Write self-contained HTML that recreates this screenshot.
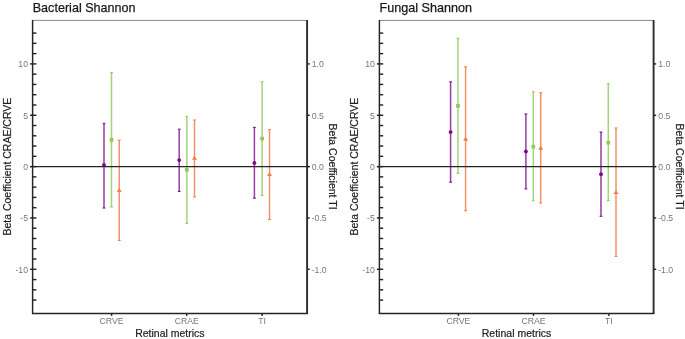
<!DOCTYPE html>
<html><head><meta charset="utf-8"><style>
html,body{margin:0;padding:0;background:#fff;}
body{width:685px;height:339px;overflow:hidden;}
svg{display:block;will-change:transform;}
text{font-family:"Liberation Sans",sans-serif;}
.ttl{font-size:12.6px;fill:#1a1a1a;stroke:#1a1a1a;stroke-width:0.25px;}
.tk{font-size:8.7px;fill:#767676;}
.xt{font-size:10.5px;fill:#1e1e1e;stroke:#1e1e1e;stroke-width:0.2px;}
.yt{font-size:10.5px;fill:#1e1e1e;stroke:#1e1e1e;stroke-width:0.2px;}
.ax{stroke:#242424;stroke-width:1.45;}
</style></head><body>
<svg width="685" height="339" viewBox="0 0 685 339">
<rect width="685" height="339" fill="#fff"/>
<text x="32.7" y="11.9" class="ttl">Bacterial Shannon</text>
<line x1="32.6" y1="20.4" x2="307.1" y2="20.4" stroke="#8a8a8a" stroke-width="1"/>
<line x1="32.6" y1="300.11" x2="36.4" y2="300.11" class="ax"/>
<line x1="32.6" y1="289.84" x2="36.4" y2="289.84" class="ax"/>
<line x1="32.6" y1="279.57" x2="36.4" y2="279.57" class="ax"/>
<line x1="30.1" y1="269.3" x2="36.4" y2="269.3" class="ax"/>
<line x1="32.6" y1="259.03" x2="36.4" y2="259.03" class="ax"/>
<line x1="32.6" y1="248.76" x2="36.4" y2="248.76" class="ax"/>
<line x1="32.6" y1="238.49" x2="36.4" y2="238.49" class="ax"/>
<line x1="32.6" y1="228.22" x2="36.4" y2="228.22" class="ax"/>
<line x1="30.1" y1="217.95" x2="36.4" y2="217.95" class="ax"/>
<line x1="32.6" y1="207.68" x2="36.4" y2="207.68" class="ax"/>
<line x1="32.6" y1="197.41" x2="36.4" y2="197.41" class="ax"/>
<line x1="32.6" y1="187.14" x2="36.4" y2="187.14" class="ax"/>
<line x1="32.6" y1="176.87" x2="36.4" y2="176.87" class="ax"/>
<line x1="30.1" y1="166.6" x2="36.4" y2="166.6" class="ax"/>
<line x1="32.6" y1="156.33" x2="36.4" y2="156.33" class="ax"/>
<line x1="32.6" y1="146.06" x2="36.4" y2="146.06" class="ax"/>
<line x1="32.6" y1="135.79" x2="36.4" y2="135.79" class="ax"/>
<line x1="32.6" y1="125.52" x2="36.4" y2="125.52" class="ax"/>
<line x1="30.1" y1="115.25" x2="36.4" y2="115.25" class="ax"/>
<line x1="32.6" y1="104.98" x2="36.4" y2="104.98" class="ax"/>
<line x1="32.6" y1="94.71" x2="36.4" y2="94.71" class="ax"/>
<line x1="32.6" y1="84.44" x2="36.4" y2="84.44" class="ax"/>
<line x1="32.6" y1="74.17" x2="36.4" y2="74.17" class="ax"/>
<line x1="30.1" y1="63.9" x2="36.4" y2="63.9" class="ax"/>
<line x1="32.6" y1="53.63" x2="36.4" y2="53.63" class="ax"/>
<line x1="32.6" y1="43.36" x2="36.4" y2="43.36" class="ax"/>
<line x1="32.6" y1="33.09" x2="36.4" y2="33.09" class="ax"/>
<text x="28" y="67.4" class="tk" text-anchor="end">10</text>
<text x="28" y="118.75" class="tk" text-anchor="end">5</text>
<text x="28" y="170.1" class="tk" text-anchor="end">0</text>
<text x="28" y="221.45" class="tk" text-anchor="end">-5</text>
<text x="28" y="272.8" class="tk" text-anchor="end">-10</text>
<line x1="307.1" y1="63.9" x2="309.7" y2="63.9" class="ax"/>
<text x="311.7" y="67.4" class="tk">1.0</text>
<line x1="307.1" y1="115.25" x2="309.7" y2="115.25" class="ax"/>
<text x="311.7" y="118.75" class="tk">0.5</text>
<line x1="307.1" y1="166.6" x2="309.7" y2="166.6" class="ax"/>
<text x="311.7" y="170.1" class="tk">0.0</text>
<line x1="307.1" y1="217.95" x2="309.7" y2="217.95" class="ax"/>
<text x="311.7" y="221.45" class="tk">-0.5</text>
<line x1="307.1" y1="269.3" x2="309.7" y2="269.3" class="ax"/>
<text x="311.7" y="272.8" class="tk">-1.0</text>
<line x1="32.6" y1="19.9" x2="32.6" y2="314" class="ax"/>
<line x1="307.1" y1="19.9" x2="307.1" y2="314" class="ax" style="stroke-width:1.9;stroke:#2b2b2b"/>
<line x1="32" y1="313.4" x2="307.7" y2="313.4" class="ax"/>
<line x1="111.6" y1="313.4" x2="111.6" y2="315.9" class="ax"/>
<text x="111.6" y="324.2" class="tk" text-anchor="middle">CRVE</text>
<line x1="186.7" y1="313.4" x2="186.7" y2="315.9" class="ax"/>
<text x="186.7" y="324.2" class="tk" text-anchor="middle">CRAE</text>
<line x1="262.1" y1="313.4" x2="262.1" y2="315.9" class="ax"/>
<text x="262.1" y="324.2" class="tk" text-anchor="middle">TI</text>
<text x="169.85" y="337.2" class="xt" text-anchor="middle">Retinal metrics</text>
<text transform="translate(11,166.6) rotate(-90)" class="yt" text-anchor="middle">Beta Coefficient CRAE/CRVE</text>
<text transform="translate(329.3,166.6) rotate(90)" class="yt" text-anchor="middle">Beta Coefficient TI</text>
<line x1="104" y1="123.5" x2="104" y2="208" stroke="#973da3" stroke-width="1.5"/>
<line x1="102.6" y1="123.5" x2="105.4" y2="123.5" stroke="#7f0a86" stroke-width="1.2" opacity="0.9"/>
<line x1="102.6" y1="208" x2="105.4" y2="208" stroke="#7f0a86" stroke-width="1.2" opacity="0.9"/>
<circle cx="104" cy="165" r="1.95" fill="#7f0a86"/>
<line x1="111.5" y1="72.7" x2="111.5" y2="207" stroke="#a6d27c" stroke-width="1.5"/>
<line x1="110.1" y1="72.7" x2="112.9" y2="72.7" stroke="#90cb52" stroke-width="1.2" opacity="0.9"/>
<line x1="110.1" y1="207" x2="112.9" y2="207" stroke="#90cb52" stroke-width="1.2" opacity="0.9"/>
<rect x="109.65" y="137.95" width="3.7" height="3.7" fill="#90cb52"/>
<line x1="119.25" y1="140.3" x2="119.25" y2="240.4" stroke="#f2936a" stroke-width="1.5"/>
<line x1="117.85" y1="140.3" x2="120.65" y2="140.3" stroke="#f57a45" stroke-width="1.2" opacity="0.9"/>
<line x1="117.85" y1="240.4" x2="120.65" y2="240.4" stroke="#f57a45" stroke-width="1.2" opacity="0.9"/>
<polygon points="119.25,188 121.75,191.9 116.75,191.9" fill="#f57a45"/>
<line x1="179.2" y1="129.2" x2="179.2" y2="191.4" stroke="#973da3" stroke-width="1.5"/>
<line x1="177.8" y1="129.2" x2="180.6" y2="129.2" stroke="#7f0a86" stroke-width="1.2" opacity="0.9"/>
<line x1="177.8" y1="191.4" x2="180.6" y2="191.4" stroke="#7f0a86" stroke-width="1.2" opacity="0.9"/>
<circle cx="179.2" cy="160.1" r="1.95" fill="#7f0a86"/>
<line x1="186.8" y1="116.4" x2="186.8" y2="223.5" stroke="#a6d27c" stroke-width="1.5"/>
<line x1="185.4" y1="116.4" x2="188.2" y2="116.4" stroke="#90cb52" stroke-width="1.2" opacity="0.9"/>
<line x1="185.4" y1="223.5" x2="188.2" y2="223.5" stroke="#90cb52" stroke-width="1.2" opacity="0.9"/>
<rect x="184.95" y="167.95" width="3.7" height="3.7" fill="#90cb52"/>
<line x1="194.5" y1="120" x2="194.5" y2="197" stroke="#f2936a" stroke-width="1.5"/>
<line x1="193.1" y1="120" x2="195.9" y2="120" stroke="#f57a45" stroke-width="1.2" opacity="0.9"/>
<line x1="193.1" y1="197" x2="195.9" y2="197" stroke="#f57a45" stroke-width="1.2" opacity="0.9"/>
<polygon points="194.5,155.8 197,159.7 192,159.7" fill="#f57a45"/>
<line x1="254.4" y1="127.4" x2="254.4" y2="198.2" stroke="#973da3" stroke-width="1.5"/>
<line x1="253" y1="127.4" x2="255.8" y2="127.4" stroke="#7f0a86" stroke-width="1.2" opacity="0.9"/>
<line x1="253" y1="198.2" x2="255.8" y2="198.2" stroke="#7f0a86" stroke-width="1.2" opacity="0.9"/>
<circle cx="254.4" cy="163" r="1.95" fill="#7f0a86"/>
<line x1="262.1" y1="81.8" x2="262.1" y2="195.4" stroke="#a6d27c" stroke-width="1.5"/>
<line x1="260.7" y1="81.8" x2="263.5" y2="81.8" stroke="#90cb52" stroke-width="1.2" opacity="0.9"/>
<line x1="260.7" y1="195.4" x2="263.5" y2="195.4" stroke="#90cb52" stroke-width="1.2" opacity="0.9"/>
<rect x="260.25" y="136.75" width="3.7" height="3.7" fill="#90cb52"/>
<line x1="269.5" y1="129.5" x2="269.5" y2="219.5" stroke="#f2936a" stroke-width="1.5"/>
<line x1="268.1" y1="129.5" x2="270.9" y2="129.5" stroke="#f57a45" stroke-width="1.2" opacity="0.9"/>
<line x1="268.1" y1="219.5" x2="270.9" y2="219.5" stroke="#f57a45" stroke-width="1.2" opacity="0.9"/>
<polygon points="269.5,172.1 272,176 267,176" fill="#f57a45"/>
<line x1="30.1" y1="166.6" x2="309.7" y2="166.6" class="ax" style="stroke-width:1.3"/>
<text x="379.5" y="11.9" class="ttl">Fungal Shannon</text>
<line x1="379.4" y1="20.4" x2="653.6" y2="20.4" stroke="#8a8a8a" stroke-width="1"/>
<line x1="379.4" y1="300.11" x2="383.2" y2="300.11" class="ax"/>
<line x1="379.4" y1="289.84" x2="383.2" y2="289.84" class="ax"/>
<line x1="379.4" y1="279.57" x2="383.2" y2="279.57" class="ax"/>
<line x1="376.9" y1="269.3" x2="383.2" y2="269.3" class="ax"/>
<line x1="379.4" y1="259.03" x2="383.2" y2="259.03" class="ax"/>
<line x1="379.4" y1="248.76" x2="383.2" y2="248.76" class="ax"/>
<line x1="379.4" y1="238.49" x2="383.2" y2="238.49" class="ax"/>
<line x1="379.4" y1="228.22" x2="383.2" y2="228.22" class="ax"/>
<line x1="376.9" y1="217.95" x2="383.2" y2="217.95" class="ax"/>
<line x1="379.4" y1="207.68" x2="383.2" y2="207.68" class="ax"/>
<line x1="379.4" y1="197.41" x2="383.2" y2="197.41" class="ax"/>
<line x1="379.4" y1="187.14" x2="383.2" y2="187.14" class="ax"/>
<line x1="379.4" y1="176.87" x2="383.2" y2="176.87" class="ax"/>
<line x1="376.9" y1="166.6" x2="383.2" y2="166.6" class="ax"/>
<line x1="379.4" y1="156.33" x2="383.2" y2="156.33" class="ax"/>
<line x1="379.4" y1="146.06" x2="383.2" y2="146.06" class="ax"/>
<line x1="379.4" y1="135.79" x2="383.2" y2="135.79" class="ax"/>
<line x1="379.4" y1="125.52" x2="383.2" y2="125.52" class="ax"/>
<line x1="376.9" y1="115.25" x2="383.2" y2="115.25" class="ax"/>
<line x1="379.4" y1="104.98" x2="383.2" y2="104.98" class="ax"/>
<line x1="379.4" y1="94.71" x2="383.2" y2="94.71" class="ax"/>
<line x1="379.4" y1="84.44" x2="383.2" y2="84.44" class="ax"/>
<line x1="379.4" y1="74.17" x2="383.2" y2="74.17" class="ax"/>
<line x1="376.9" y1="63.9" x2="383.2" y2="63.9" class="ax"/>
<line x1="379.4" y1="53.63" x2="383.2" y2="53.63" class="ax"/>
<line x1="379.4" y1="43.36" x2="383.2" y2="43.36" class="ax"/>
<line x1="379.4" y1="33.09" x2="383.2" y2="33.09" class="ax"/>
<text x="374.8" y="67.4" class="tk" text-anchor="end">10</text>
<text x="374.8" y="118.75" class="tk" text-anchor="end">5</text>
<text x="374.8" y="170.1" class="tk" text-anchor="end">0</text>
<text x="374.8" y="221.45" class="tk" text-anchor="end">-5</text>
<text x="374.8" y="272.8" class="tk" text-anchor="end">-10</text>
<line x1="653.6" y1="63.9" x2="656.2" y2="63.9" class="ax"/>
<text x="658.2" y="67.4" class="tk">1.0</text>
<line x1="653.6" y1="115.25" x2="656.2" y2="115.25" class="ax"/>
<text x="658.2" y="118.75" class="tk">0.5</text>
<line x1="653.6" y1="166.6" x2="656.2" y2="166.6" class="ax"/>
<text x="658.2" y="170.1" class="tk">0.0</text>
<line x1="653.6" y1="217.95" x2="656.2" y2="217.95" class="ax"/>
<text x="658.2" y="221.45" class="tk">-0.5</text>
<line x1="653.6" y1="269.3" x2="656.2" y2="269.3" class="ax"/>
<text x="658.2" y="272.8" class="tk">-1.0</text>
<line x1="379.4" y1="19.9" x2="379.4" y2="314" class="ax"/>
<line x1="653.6" y1="19.9" x2="653.6" y2="314" class="ax" style="stroke-width:1.9;stroke:#2b2b2b"/>
<line x1="378.8" y1="313.4" x2="654.2" y2="313.4" class="ax"/>
<line x1="458.4" y1="313.4" x2="458.4" y2="315.9" class="ax"/>
<text x="458.4" y="324.2" class="tk" text-anchor="middle">CRVE</text>
<line x1="533.5" y1="313.4" x2="533.5" y2="315.9" class="ax"/>
<text x="533.5" y="324.2" class="tk" text-anchor="middle">CRAE</text>
<line x1="608.9" y1="313.4" x2="608.9" y2="315.9" class="ax"/>
<text x="608.9" y="324.2" class="tk" text-anchor="middle">TI</text>
<text x="516.5" y="337.2" class="xt" text-anchor="middle">Retinal metrics</text>
<text transform="translate(357.8,166.6) rotate(-90)" class="yt" text-anchor="middle">Beta Coefficient CRAE/CRVE</text>
<text transform="translate(676.1,166.6) rotate(90)" class="yt" text-anchor="middle">Beta Coefficient TI</text>
<line x1="450.6" y1="81.8" x2="450.6" y2="182.2" stroke="#973da3" stroke-width="1.5"/>
<line x1="449.2" y1="81.8" x2="452" y2="81.8" stroke="#7f0a86" stroke-width="1.2" opacity="0.9"/>
<line x1="449.2" y1="182.2" x2="452" y2="182.2" stroke="#7f0a86" stroke-width="1.2" opacity="0.9"/>
<circle cx="450.6" cy="132.1" r="1.95" fill="#7f0a86"/>
<line x1="457.95" y1="38.3" x2="457.95" y2="173.3" stroke="#a6d27c" stroke-width="1.5"/>
<line x1="456.55" y1="38.3" x2="459.35" y2="38.3" stroke="#90cb52" stroke-width="1.2" opacity="0.9"/>
<line x1="456.55" y1="173.3" x2="459.35" y2="173.3" stroke="#90cb52" stroke-width="1.2" opacity="0.9"/>
<rect x="456.1" y="104.05" width="3.7" height="3.7" fill="#90cb52"/>
<line x1="465.6" y1="66.8" x2="465.6" y2="210.7" stroke="#f2936a" stroke-width="1.5"/>
<line x1="464.2" y1="66.8" x2="467" y2="66.8" stroke="#f57a45" stroke-width="1.2" opacity="0.9"/>
<line x1="464.2" y1="210.7" x2="467" y2="210.7" stroke="#f57a45" stroke-width="1.2" opacity="0.9"/>
<polygon points="465.6,136.8 468.1,140.7 463.1,140.7" fill="#f57a45"/>
<line x1="525.9" y1="114" x2="525.9" y2="188.9" stroke="#973da3" stroke-width="1.5"/>
<line x1="524.5" y1="114" x2="527.3" y2="114" stroke="#7f0a86" stroke-width="1.2" opacity="0.9"/>
<line x1="524.5" y1="188.9" x2="527.3" y2="188.9" stroke="#7f0a86" stroke-width="1.2" opacity="0.9"/>
<circle cx="525.9" cy="151.5" r="1.95" fill="#7f0a86"/>
<line x1="533.3" y1="91.8" x2="533.3" y2="200.7" stroke="#a6d27c" stroke-width="1.5"/>
<line x1="531.9" y1="91.8" x2="534.7" y2="91.8" stroke="#90cb52" stroke-width="1.2" opacity="0.9"/>
<line x1="531.9" y1="200.7" x2="534.7" y2="200.7" stroke="#90cb52" stroke-width="1.2" opacity="0.9"/>
<rect x="531.45" y="144.85" width="3.7" height="3.7" fill="#90cb52"/>
<line x1="540.7" y1="92.7" x2="540.7" y2="203" stroke="#f2936a" stroke-width="1.5"/>
<line x1="539.3" y1="92.7" x2="542.1" y2="92.7" stroke="#f57a45" stroke-width="1.2" opacity="0.9"/>
<line x1="539.3" y1="203" x2="542.1" y2="203" stroke="#f57a45" stroke-width="1.2" opacity="0.9"/>
<polygon points="540.7,145.8 543.2,149.7 538.2,149.7" fill="#f57a45"/>
<line x1="601" y1="132.1" x2="601" y2="216.3" stroke="#973da3" stroke-width="1.5"/>
<line x1="599.6" y1="132.1" x2="602.4" y2="132.1" stroke="#7f0a86" stroke-width="1.2" opacity="0.9"/>
<line x1="599.6" y1="216.3" x2="602.4" y2="216.3" stroke="#7f0a86" stroke-width="1.2" opacity="0.9"/>
<circle cx="601" cy="174.2" r="1.95" fill="#7f0a86"/>
<line x1="608.3" y1="83.8" x2="608.3" y2="200.6" stroke="#a6d27c" stroke-width="1.5"/>
<line x1="606.9" y1="83.8" x2="609.7" y2="83.8" stroke="#90cb52" stroke-width="1.2" opacity="0.9"/>
<line x1="606.9" y1="200.6" x2="609.7" y2="200.6" stroke="#90cb52" stroke-width="1.2" opacity="0.9"/>
<rect x="606.45" y="140.85" width="3.7" height="3.7" fill="#90cb52"/>
<line x1="616" y1="128" x2="616" y2="256.4" stroke="#f2936a" stroke-width="1.5"/>
<line x1="614.6" y1="128" x2="617.4" y2="128" stroke="#f57a45" stroke-width="1.2" opacity="0.9"/>
<line x1="614.6" y1="256.4" x2="617.4" y2="256.4" stroke="#f57a45" stroke-width="1.2" opacity="0.9"/>
<polygon points="616,190.1 618.5,194 613.5,194" fill="#f57a45"/>
<line x1="376.9" y1="166.6" x2="656.2" y2="166.6" class="ax" style="stroke-width:1.3"/>
</svg>
</body></html>
